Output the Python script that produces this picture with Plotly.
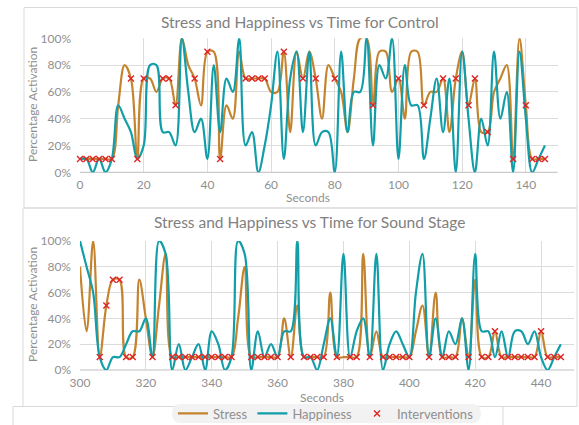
import plotly.graph_objects as go

W, H = 579, 425

# ---------------- data ----------------
control_t = list(range(0, 148, 2))
control_stress = [10, 10, 10, 10, 10, 10, 50, 80, 70, 10,
                  70, 70, 60, 70, 70, 50, 100, 80, 70, 50,
                  90, 90, 10, 50, 40, 90, 70, 70, 70, 70,
                  60, 60, 90, 30, 90, 70, 90, 70, 40, 80,
                  70, 60, 30, 70, 100, 100, 50, 90, 90, 60,
                  70, 40, 90, 90, 50, 60, 60, 70, 30, 70,
                  90, 50, 70, 30, 30, 60, 70, 80, 10, 100,
                  50, 10, 10, 10]
control_happy = [10, 10, 0, 10, 0, 10, 50, 40, 30, 10,
                 20, 80, 80, 30, 30, 20, 100, 60, 30, 40,
                 10, 80, 30, 70, 60, 100, 20, 30, 0, 20,
                 50, 90, 10, 70, 90, 30, 90, 20, 30, 30,
                 0, 90, 30, 60, 60, 100, 20, 80, 70, 100,
                 10, 80, 50, 50, 10, 40, 70, 30, 70, 0,
                 90, 40, 0, 40, 20, 90, 40, 60, 0, 90,
                 40, 0, 10, 20]
control_int_t = [0, 2, 4, 6, 8, 10, 16, 18, 20, 26, 28, 30, 36, 40, 44,
                 52, 54, 56, 58, 64, 70, 74, 80, 92, 100, 108, 114, 118,
                 122, 124, 128, 136, 140, 142, 144, 146]

sound_t = list(range(300, 448, 2))
sound_stress = [80, 30, 100, 10, 50, 70, 70, 10, 10, 70,
                40, 10, 50, 90, 10, 10, 10, 10, 10, 10,
                10, 10, 10, 10, 40, 80, 10, 10, 10, 10,
                10, 40, 10, 50, 10, 10, 10, 10, 60, 10,
                10, 10, 10, 90, 10, 30, 10, 10, 10, 10,
                10, 30, 50, 10, 60, 10, 10, 10, 40, 10,
                70, 10, 10, 30, 10, 10, 10, 10, 10, 10,
                30, 10, 10, 10]
sound_happy = [100, 80, 60, 10, 0, 10, 10, 20, 30, 30,
               40, 10, 100, 90, 0, 20, 0, 10, 20, 0,
               30, 20, 0, 10, 100, 90, 0, 30, 10, 20,
               10, 30, 30, 100, 10, 10, 0, 20, 40, 10,
               90, 10, 30, 40, 10, 90, 0, 20, 30, 20,
               10, 60, 90, 10, 40, 10, 30, 20, 40, 0,
               90, 30, 30, 10, 30, 10, 30, 30, 20, 30,
               10, 0, 10, 20]
sound_int_t = [306, 308, 310, 312, 314, 316, 322, 328, 330, 332, 334, 336,
               338, 340, 342, 344, 346, 352, 354, 356, 358, 360, 364, 368,
               370, 372, 374, 378, 382, 384, 388, 392, 394, 396, 398, 400,
               406, 410, 412, 414, 418, 422, 424, 426, 428, 430, 432, 434,
               436, 438, 440, 442, 444, 446]

titles = ["Stress and Happiness vs Time for Control",
          "Stress and Happiness vs Time for Sound Stage"]

# intervention values sit on the stress series
control_int_v = [control_stress[control_t.index(t)] for t in control_int_t]
sound_int_v = [sound_stress[sound_t.index(t)] for t in sound_int_t]

# ---------------- style ----------------
C_STRESS = "#C4842F"
C_HAPPY = "#119EA9"
C_INT = "#E02424"
GRID = "#DCDCDC"
TXT = "#8F8F8F"
FONT = "Lato"


def px(x):
    return x / W


def py(y):
    return 1 - y / H


fig = go.Figure()

sets = [
    (control_t, control_stress, control_happy, control_int_t, control_int_v, "x", "y", True),
    (sound_t, sound_stress, sound_happy, sound_int_t, sound_int_v, "x2", "y2", False),
]
for t, s, h, it, iv, xa, ya, show in sets:
    fig.add_trace(go.Scatter(x=t, y=s, mode="lines", name="Stress",
                             line=dict(color=C_STRESS, width=2.2, shape="spline", smoothing=1.0),
                             xaxis=xa, yaxis=ya, showlegend=show, legendrank=1))
    fig.add_trace(go.Scatter(x=t, y=h, mode="lines", name="Happiness",
                             line=dict(color=C_HAPPY, width=2.2, shape="spline", smoothing=1.0),
                             xaxis=xa, yaxis=ya, showlegend=show, legendrank=2))
    fig.add_trace(go.Scatter(x=it, y=iv, mode="markers", name="Interventions",
                             marker=dict(symbol="x-thin", size=6,
                                         line=dict(color=C_INT, width=1.4)),
                             xaxis=xa, yaxis=ya, showlegend=show, legendrank=3,
                             cliponaxis=False))

axis_common = dict(showgrid=True, gridcolor=GRID, gridwidth=1, zeroline=False,
                   automargin=False,
                   tickfont=dict(family=FONT, size=12, color=TXT), showline=False)

fig.update_layout(
    template="none",
    width=W, height=H,
    margin=dict(l=0, r=0, t=0, b=0, pad=0, autoexpand=False),
    paper_bgcolor="white", plot_bgcolor="white",
    font=dict(family=FONT, color=TXT),
    xaxis=dict(domain=[px(80), px(557.7)], range=[0, 150], dtick=20, anchor="y",
               ticklabelstandoff=4, **axis_common),
    yaxis=dict(domain=[py(172.3), py(38.3)], range=[0, 100], dtick=20, ticksuffix="%",
               anchor="x", ticklabelstandoff=8, **axis_common),
    xaxis2=dict(domain=[px(80), px(574)], range=[300, 450], dtick=20, anchor="y2",
                ticklabelstandoff=4, **axis_common),
    yaxis2=dict(domain=[py(370), py(241)], range=[0, 100], dtick=20, ticksuffix="%",
                anchor="x2", ticklabelstandoff=8, **axis_common),
    legend=dict(orientation="h", x=px(326), y=py(413.5), xanchor="center", yanchor="middle",
                bgcolor="rgba(0,0,0,0)", font=dict(family=FONT, size=13, color=TXT),
                itemwidth=30, tracegroupgap=0),
)

annotations = [
    dict(text=titles[0], x=px(300), y=py(22), font=dict(size=15.5, color="#808080")),
    dict(text=titles[1], x=px(309), y=py(222), font=dict(size=15.5, color="#808080")),
    dict(text="Seconds", x=px(308), y=py(197), font=dict(size=12, color=TXT)),
    dict(text="Seconds", x=px(322), y=py(397), font=dict(size=12, color=TXT)),
    dict(text="Percentage Activation", x=px(32), y=py(105), textangle=-90,
         font=dict(size=12, color=TXT)),
    dict(text="Percentage Activation", x=px(32), y=py(305), textangle=-90,
         font=dict(size=12, color=TXT)),
]
for a in annotations:
    a.update(xref="paper", yref="paper", showarrow=False, xanchor="center", yanchor="middle")
    a["font"]["family"] = FONT
fig.update_layout(annotations=annotations)

BORDER = "#D9D9D9"
shapes = [
    dict(type="rect", x0=px(24), x1=px(577), y0=py(208), y1=py(7.5)),
    dict(type="rect", x0=px(23), x1=px(577), y0=py(406.5), y1=py(208)),
    dict(type="line", x0=px(13), x1=px(577), y0=py(406.5), y1=py(406.5)),
    dict(type="line", x0=px(13), x1=px(13), y0=py(406.5), y1=py(425)),
    dict(type="line", x0=px(503), x1=px(503), y0=py(406.5), y1=py(425)),
    dict(type="line", x0=px(80), x1=px(557.7), y0=py(172.3), y1=py(172.3),
         line=dict(color="#BFBFBF", width=1)),
    dict(type="line", x0=px(80), x1=px(574), y0=py(370), y1=py(370),
         line=dict(color="#BFBFBF", width=1)),
]
for s in shapes:
    s.update(xref="paper", yref="paper", layer="below")
    s.setdefault("line", dict(color=BORDER, width=1))

x0, x1, y0, y1, r = 172, 481, 404, 423, 9.5
path = (f"M {px(x0 + r)},{py(y0)} L {px(x1 - r)},{py(y0)} "
        f"Q {px(x1)},{py(y0)} {px(x1)},{py((y0 + y1) / 2)} "
        f"Q {px(x1)},{py(y1)} {px(x1 - r)},{py(y1)} "
        f"L {px(x0 + r)},{py(y1)} "
        f"Q {px(x0)},{py(y1)} {px(x0)},{py((y0 + y1) / 2)} "
        f"Q {px(x0)},{py(y0)} {px(x0 + r)},{py(y0)} Z")
shapes.append(dict(type="path", path=path, xref="paper", yref="paper",
                   fillcolor="#F2F2F2", line=dict(width=0), layer="above"))
fig.update_layout(shapes=shapes)

fig.write_html("out.html",
               config={"displayModeBar": False},
               post_script="document.body.style.margin='0px';"
                           "document.body.style.padding='0px';"
                           "document.body.style.overflow='hidden';")
